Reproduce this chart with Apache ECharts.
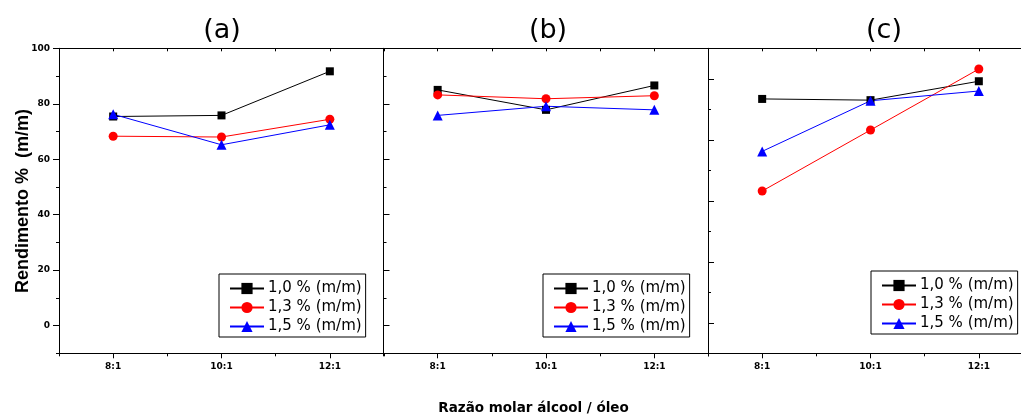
<!DOCTYPE html>
<html><head><meta charset="utf-8">
<script src="https://cdn.jsdelivr.net/npm/echarts@6/dist/echarts.min.js"></script>
<style>html,body{margin:0;padding:0;background:#fff;overflow:hidden;width:1021px;height:417px}#c{width:1040px;height:417px}</style>
</head><body><div id="c"></div>
<script>
// ---- data ----
const ratioLabels = ['8:1', '10:1', '12:1'];
const ratioValues = [8, 10, 12];
const xMinorTicks = [7, 9, 11, 13];
const seriesNames = ['1,0 % (m/m)', '1,3 % (m/m)', '1,5 % (m/m)'];
const panelTitles = ['(a)', '(b)', '(c)'];

const panelA_10 = [75.4, 75.8, 91.7];
const panelA_13 = [68.3, 68.0, 74.4];
const panelA_15 = [76.2, 65.2, 72.4];

const panelB_10 = [85.0, 77.8, 86.6];
const panelB_13 = [83.2, 81.8, 82.9];
const panelB_15 = [75.8, 79.1, 77.8];

const panelC_10 = [86.7, 86.5, 89.6];
const panelC_13 = [71.6, 81.6, 91.6];
const panelC_15 = [78.1, 86.4, 88.0];

const yMajorAB = [0, 20, 40, 60, 80, 100];
const yMinorAB = [-10, 10, 30, 50, 70, 90];
const yMajorC = [50, 60, 70, 80, 90];
const yMinorC = [45, 55, 65, 75, 85, 95];

const xTitle = 'Razão molar álcool / óleo';
const yTitle = 'Rendimento %  (m/m)';

// ---- layout / style ----
const panels = [
  { data: [panelA_10, panelA_13, panelA_15], left: 59, yMin: -10, yMax: 100, major: yMajorAB, minor: yMinorAB, inside: false, labels: true, legend: [219, 274], titleX: 222 },
  { data: [panelB_10, panelB_13, panelB_15], left: 383.5, yMin: -10, yMax: 100, major: yMajorAB, minor: yMinorAB, inside: true, labels: false, legend: [543, 274], titleX: 548 },
  { data: [panelC_10, panelC_13, panelC_15], left: 708, yMin: 45, yMax: 95, major: yMajorC, minor: yMinorC, inside: true, labels: false, legend: [871, 271], titleX: 884 }
];
const colors = ['#000000', '#ff0000', '#0000ff'];
const symbols = ['rect', 'circle', 'triangle'];
const symbolSizes = [8, 9, 10];
const black = { color: '#000', width: 1 };
const tickFont = { fontFamily: 'DejaVu Sans', fontWeight: 'bold', fontSize: 9, color: '#000' };

const grid = [], xAxis = [], yAxis = [], series = [], legend = [], graphic = [];

panels.forEach((p, i) => {
  grid.push({ left: p.left, width: 325, top: 48.3, bottom: 417 - 353.3, containLabel: false });
  const xBase = xAxis.length;
  xAxis.push({
    type: 'value', gridIndex: i, min: 7, max: 13, position: 'bottom',
    axisLine: { show: true, onZero: false, lineStyle: black },
    axisTick: { show: true, inside: false, length: 5, customValues: ratioValues, lineStyle: black },
    axisLabel: { show: true, customValues: ratioValues, margin: 9, formatter: v => ratioLabels[ratioValues.indexOf(v)], ...tickFont },
    splitLine: { show: false }
  });
  xAxis.push({
    type: 'value', gridIndex: i, min: 7, max: 13, position: 'bottom',
    axisLine: { show: false, onZero: false },
    axisTick: { show: true, inside: false, length: 3, customValues: xMinorTicks, lineStyle: black },
    axisLabel: { show: false }, splitLine: { show: false }
  });
  xAxis.push({
    type: 'value', gridIndex: i, min: 7, max: 13, position: 'top',
    axisLine: { show: true, onZero: false, lineStyle: black },
    axisTick: { show: true, inside: true, length: 3, customValues: [7, 8, 9, 10, 11, 12, 13], lineStyle: black },
    axisLabel: { show: false }, splitLine: { show: false }
  });
  const yBase = yAxis.length;
  yAxis.push({
    type: 'value', gridIndex: i, min: p.yMin, max: p.yMax, position: 'left',
    axisLine: { show: true, onZero: false, lineStyle: black },
    axisTick: { show: true, inside: p.inside, length: 6, customValues: p.major, lineStyle: black },
    axisLabel: { show: p.labels, customValues: p.major, margin: 9, ...tickFont },
    splitLine: { show: false }
  });
  yAxis.push({
    type: 'value', gridIndex: i, min: p.yMin, max: p.yMax, position: 'left',
    axisLine: { show: false, onZero: false },
    axisTick: { show: true, inside: p.inside, length: 3, customValues: p.minor, lineStyle: black },
    axisLabel: { show: false }, splitLine: { show: false }
  });
  p.data.forEach((arr, k) => {
    series.push({
      type: 'line', name: seriesNames[k], xAxisIndex: xBase, yAxisIndex: yBase,
      data: ratioValues.map((x, j) => [x, arr[j]]),
      symbol: symbols[k], symbolSize: symbolSizes[k],
      lineStyle: { color: colors[k], width: 1 },
      itemStyle: { color: colors[k] },
      animation: false
    });
  });
  legend.push({
    data: seriesNames, orient: 'vertical', left: p.legend[0], top: p.legend[1],
    borderColor: '#000', borderWidth: 1, borderRadius: 0, padding: [7, 4, 3, 10],
    itemWidth: 34, itemHeight: 14, itemGap: 4, selectedMode: false,
    textStyle: { fontFamily: 'DejaVu Sans', fontSize: 15, color: '#000', lineHeight: 15, padding: [0, 0, 0, -1] },
    backgroundColor: '#fff'
  });
  graphic.push({
    type: 'text', x: p.titleX, y: 31,
    style: { text: panelTitles[i], fontFamily: 'DejaVu Sans', fontSize: 27, fill: '#000', align: 'center', verticalAlign: 'middle' }
  });
});

graphic.push({
  type: 'text', x: 533.5, y: 408,
  style: { text: xTitle, fontFamily: 'DejaVu Sans', fontWeight: 'bold', fontSize: 13.5, fill: '#000', align: 'center', verticalAlign: 'middle' }
});
graphic.push({
  type: 'text', x: 23, y: 201, rotation: Math.PI / 2,
  style: { text: yTitle, fontFamily: 'Liberation Sans', fontWeight: 'bold', fontSize: 18, fill: '#000', align: 'center', verticalAlign: 'middle' }
});

const chart = echarts.init(document.getElementById('c'), null, { renderer: 'canvas' });
chart.setOption({ animation: false, backgroundColor: '#fff', grid, xAxis, yAxis, series, legend, graphic });
</script>
</body></html>
